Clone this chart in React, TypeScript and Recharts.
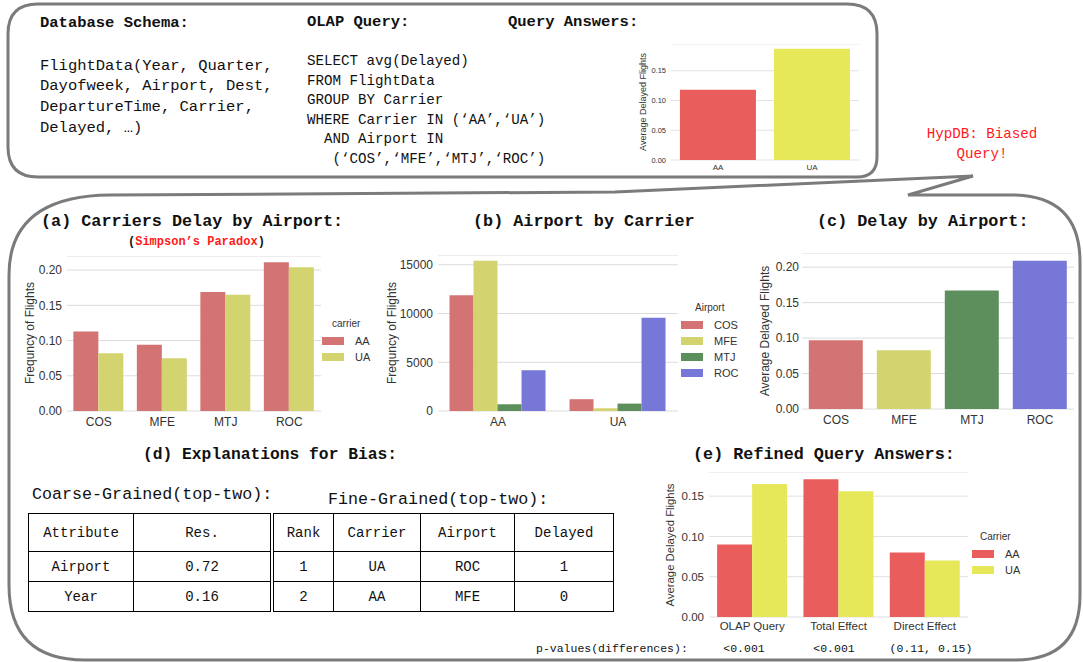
import { BarChart, Bar, XAxis, YAxis, CartesianGrid, Cell } from 'recharts';

const carriers = ['AA', 'UA'];
const airports = ['COS', 'MFE', 'MTJ', 'ROC'];
const overallDelay = [0.118, 0.187];
const delayAA = [0.113, 0.094, 0.169, 0.211];
const delayUA = [0.082, 0.075, 0.165, 0.204];
const flightsAA = [11880, 15410, 690, 4190];
const flightsUA = [1210, 280, 760, 9560];
const airportDelay = [0.097, 0.083, 0.167, 0.209];
const effects = ['OLAP Query', 'Total Effect', 'Direct Effect'];
const refinedAA = [0.09, 0.171, 0.08];
const refinedUA = [0.165, 0.156, 0.07];
const pValues = ['<0.001', '<0.001', '(0.11, 0.15)'];
const delayTicks = [0, 0.05, 0.1, 0.15, 0.2];
const smallTicks = [0, 0.05, 0.1, 0.15];
const flightTicks = [0, 5000, 10000, 15000];

const coarseHeader = ['Attribute', 'Res.'];
const coarseRows = [['Airport', '0.72'], ['Year', '0.16']];
const fineHeader = ['Rank', 'Carrier', 'Airport', 'Delayed'];
const fineRows = [['1', 'UA', 'ROC', '1'], ['2', 'AA', 'MFE', '0']];

const schemaLines = ['FlightData(Year, Quarter,', 'Dayofweek, Airport, Dest,', 'DepartureTime, Carrier,', 'Delayed, …)'];
const queryLines = [
  'SELECT avg(Delayed)',
  'FROM FlightData',
  'GROUP BY Carrier',
  'WHERE Carrier IN (‘AA’,‘UA’)',
  '  AND Airport IN',
  '   (‘COS’,‘MFE’,‘MTJ’,‘ROC’)',
];

const mono = '"Liberation Mono", "DejaVu Sans Mono", monospace';
const sans = '"Liberation Sans", Arial, sans-serif';
const ink = '#333';

// muted palette for (a)-(c), bright one for the query answers
const muted = { COS: '#d47373', MFE: '#d3d46f', MTJ: '#5d8f5d', ROC: '#7777d8' };
const bright = { AA: '#e95d5d', UA: '#e6e85a' };

const overallData = carriers.map((c, i) => ({ carrier: c, delay: overallDelay[i] }));
const byAirport = airports.map((a, i) => ({ airport: a, AA: delayAA[i], UA: delayUA[i] }));
const byCarrier = carriers.map((c, i) => {
  const src = i === 0 ? flightsAA : flightsUA;
  return { carrier: c, COS: src[0], MFE: src[1], MTJ: src[2], ROC: src[3] };
});
const airportData = airports.map((a, i) => ({ airport: a, delay: airportDelay[i] }));
const refinedData = effects.map((e, i) => ({ effect: e, AA: refinedAA[i], UA: refinedUA[i] }));

function Txt({ x, y, size, bold, color, children, center }: any) {
  return (
    <div
      style={{
        position: 'absolute',
        left: x,
        top: y - size * 0.6,
        fontSize: size,
        lineHeight: `${size * 1.2}px`,
        fontFamily: mono,
        fontWeight: bold ? 'bold' : 'normal',
        color: color || '#111',
        whiteSpace: 'pre',
        transform: center ? 'translateX(-50%)' : undefined,
      }}
    >
      {children}
    </div>
  );
}

function VLabel({ x, y, size, text }: any) {
  return (
    <div
      style={{
        position: 'absolute',
        left: x,
        top: y,
        fontSize: size,
        fontFamily: sans,
        color: ink,
        whiteSpace: 'nowrap',
        transform: 'translate(-50%, -50%) rotate(-90deg)',
      }}
    >
      {text}
    </div>
  );
}

function KeyBox({ x, y, title, items, size, titleX }: any) {
  return (
    <>
      <div style={{ position: 'absolute', left: titleX, top: y - 8, fontSize: size - 1, lineHeight: '16px', fontFamily: sans, color: ink }}>{title}</div>
      {items.map((it: any, i: number) => (
        <div key={it.label}>
          <div style={{ position: 'absolute', left: x, top: y + 13 + i * it.step, width: 22, height: 8, background: it.color }} />
          <div style={{ position: 'absolute', left: x + 33, top: y + 9 + i * it.step, fontSize: size, lineHeight: '16px', fontFamily: sans, color: ink }}>{it.label}</div>
        </div>
      ))}
    </>
  );
}

const tickStyle = (size: number) => ({ fontSize: size, fill: ink, fontFamily: sans });

function Table({ x, y, widths, header, rows }: any) {
  const cell = (w: number, h: number): any => ({
    width: w,
    height: h,
    border: '1.5px solid #000',
    textAlign: 'center',
    padding: 0,
    fontFamily: mono,
    fontSize: 14,
    color: '#111',
  });
  return (
    <table style={{ position: 'absolute', left: x, top: y, borderCollapse: 'collapse', tableLayout: 'fixed' }}>
      <tbody>
        <tr>{header.map((h: string, i: number) => <td key={h} style={cell(widths[i], 37)}>{h}</td>)}</tr>
        {rows.map((r: string[], j: number) => (
          <tr key={j}>{r.map((v, i) => <td key={i} style={cell(widths[i], 29)}>{v}</td>)}</tr>
        ))}
      </tbody>
    </table>
  );
}

export default function App() {
  return (
    <div style={{ position: 'absolute', left: 0, top: 0, width: 1083, height: 662, background: '#fff', overflow: 'hidden' }}>
      <svg width={1083} height={662} style={{ position: 'absolute', left: 0, top: 0 }}>
        <path d="M 38 4 L 847 4 Q 877 4 877 34 L 877 157 Q 877 177 857 177 L 38 177 Q 8 177 8 147 L 8 34 Q 8 4 38 4 Z" fill="none" stroke="#7b7b7b" strokeWidth={3} />
        <path d="M 110 195 L 615 192 L 973 176 L 908 195 L 1015 195 Q 1080 197 1080 262 L 1080 595 Q 1080 660 1015 660 L 85 660 Q 9 660 9 585 L 9 275 Q 9 196 110 195 Z" fill="none" stroke="#7b7b7b" strokeWidth={3} />
      </svg>

      {/* top panel */}
      <Txt x={40} y={23} size={15.5} bold>Database Schema:</Txt>
      {schemaLines.map((l, i) => <Txt key={l} x={40} y={66 + i * 20.7} size={15.5}>{l}</Txt>)}
      <Txt x={307} y={22} size={15.5} bold>OLAP Query:</Txt>
      {queryLines.map((l, i) => <Txt key={l} x={307} y={62 + i * 19.5} size={14.2}>{l}</Txt>)}
      <Txt x={508} y={22} size={15.5} bold>Query Answers:</Txt>

      <VLabel x={643} y={102} size={9} text="Average Delayed Flights" />
      <div style={{ position: 'absolute', left: 649, top: 44 }}>
        <BarChart width={210} height={130} data={overallData} margin={{ top: 0, right: 0, bottom: 0, left: 0 }} barCategoryGap="9.5%">
          <CartesianGrid vertical={false} stroke="#e3e3e3" />
          <XAxis dataKey="carrier" axisLine={false} tickLine={false} tickSize={0} tickMargin={4} height={14} interval={0} tick={tickStyle(8)} />
          <YAxis domain={[0, 0.195]} ticks={smallTicks} tickFormatter={(v: number) => v.toFixed(2)} width={22} axisLine={false} tickLine={false} tickSize={0} tickMargin={5} tick={tickStyle(7.5)} />
          <Bar dataKey="delay" isAnimationActive={false}>
            {overallData.map((d) => <Cell key={d.carrier} fill={bright[d.carrier as 'AA' | 'UA']} />)}
          </Bar>
        </BarChart>
      </div>

      <Txt x={982} y={135} size={14.2} color="#ff1a1a" center>HypDB: Biased</Txt>
      <Txt x={982} y={155} size={14.2} color="#ff1a1a" center>Query!</Txt>

      {/* (a) */}
      <Txt x={41} y={222} size={16.8} bold>(a) Carriers Delay by Airport:</Txt>
      <Txt x={128} y={242} size={12} bold>(<span style={{ color: '#ff1a1a' }}>Simpson’s Paradox</span>)</Txt>
      <VLabel x={30} y={333} size={12} text="Frequncy of Flights" />
      <div style={{ position: 'absolute', left: 27, top: 256 }}>
        <BarChart width={294} height={177} data={byAirport} margin={{ top: 0, right: 0, bottom: 0, left: 0 }} barCategoryGap="10%" barGap={0}>
          <CartesianGrid vertical={false} stroke="#dcdcdc" />
          <XAxis dataKey="airport" axisLine={false} tickLine={false} tickSize={0} tickMargin={6} height={22} interval={0} tick={tickStyle(12)} />
          <YAxis domain={[0, 0.22]} ticks={delayTicks} tickFormatter={(v: number) => v.toFixed(2)} width={40} axisLine={false} tickLine={false} tickSize={0} tickMargin={5} tick={tickStyle(12)} />
          <Bar dataKey="AA" fill={muted.COS} isAnimationActive={false} />
          <Bar dataKey="UA" fill={muted.MFE} isAnimationActive={false} />
        </BarChart>
      </div>
      <KeyBox x={322} y={324} titleX={332} title="carrier" size={11}
        items={carriers.map((c, i) => ({ label: c, color: i === 0 ? muted.COS : muted.MFE, step: 16 }))} />

      {/* (b) */}
      <Txt x={473} y={222} size={16.8} bold>(b) Airport by Carrier</Txt>
      <VLabel x={392} y={333} size={12} text="Frequncy of Flights" />
      <div style={{ position: 'absolute', left: 393, top: 255 }}>
        <BarChart width={285} height={178} data={byCarrier} margin={{ top: 0, right: 0, bottom: 0, left: 0 }} barCategoryGap="9.6%" barGap={0}>
          <CartesianGrid vertical={false} stroke="#dcdcdc" />
          <XAxis dataKey="carrier" axisLine={false} tickLine={false} tickSize={0} tickMargin={6} height={22} interval={0} tick={tickStyle(12)} />
          <YAxis domain={[0, 16000]} ticks={flightTicks} width={45} axisLine={false} tickLine={false} tickSize={0} tickMargin={5} tick={tickStyle(12)} />
          {airports.map((a) => <Bar key={a} dataKey={a} fill={muted[a as keyof typeof muted]} isAnimationActive={false} />)}
        </BarChart>
      </div>
      <KeyBox x={681} y={308} titleX={695} title="Airport" size={11}
        items={airports.map((a) => ({ label: a, color: muted[a as keyof typeof muted], step: 16 }))} />

      {/* (c) */}
      <Txt x={817} y={222} size={16.8} bold>(c) Delay by Airport:</Txt>
      <VLabel x={765} y={331} size={12} text="Average Delayed Flights" />
      <div style={{ position: 'absolute', left: 762, top: 253 }}>
        <BarChart width={312} height={178} data={airportData} margin={{ top: 0, right: 0, bottom: 0, left: 0 }} barCategoryGap="10%">
          <CartesianGrid vertical={false} stroke="#dcdcdc" />
          <XAxis dataKey="airport" axisLine={false} tickLine={false} tickSize={0} tickMargin={6} height={22} interval={0} tick={tickStyle(12)} />
          <YAxis domain={[0, 0.22]} ticks={delayTicks} tickFormatter={(v: number) => v.toFixed(2)} width={40} axisLine={false} tickLine={false} tickSize={0} tickMargin={3} tick={tickStyle(12)} />
          <Bar dataKey="delay" isAnimationActive={false}>
            {airportData.map((d) => <Cell key={d.airport} fill={muted[d.airport as keyof typeof muted]} />)}
          </Bar>
        </BarChart>
      </div>

      {/* (d) */}
      <Txt x={143} y={455} size={16.3} bold>(d) Explanations for Bias:</Txt>
      <Txt x={32} y={495} size={16.7}>Coarse-Grained(top-two):</Txt>
      <Txt x={328} y={500} size={16.7}>Fine-Grained(top-two):</Txt>
      <Table x={28} y={513} widths={[104, 136]} header={coarseHeader} rows={coarseRows} />
      <Table x={273} y={513} widths={[59, 86, 93, 98]} header={fineHeader} rows={fineRows} />

      {/* (e) */}
      <Txt x={693} y={455} size={16.8} bold>(e) Refined Query Answers:</Txt>
      <VLabel x={670} y={545} size={11.3} text="Average Delayed Flights" />
      <div style={{ position: 'absolute', left: 669, top: 472 }}>
        <BarChart width={299} height={165} data={refinedData} margin={{ top: 0, right: 0, bottom: 0, left: 0 }} barCategoryGap="9.4%" barGap={0}>
          <CartesianGrid vertical={false} stroke="#e0e0e0" />
          <XAxis dataKey="effect" axisLine={false} tickLine={false} tickSize={0} tickMargin={5} height={20} interval={0} tick={tickStyle(11.5)} />
          <YAxis domain={[0, 0.18]} ticks={smallTicks} tickFormatter={(v: number) => v.toFixed(2)} width={40} axisLine={false} tickLine={false} tickSize={0} tickMargin={5} tick={tickStyle(11.5)} />
          <Bar dataKey="AA" fill={bright.AA} isAnimationActive={false} />
          <Bar dataKey="UA" fill={bright.UA} isAnimationActive={false} />
        </BarChart>
      </div>
      <KeyBox x={972} y={537} titleX={980} title="Carrier" size={11}
        items={carriers.map((c) => ({ label: c, color: bright[c as 'AA' | 'UA'], step: 16 }))} />

      <Txt x={536} y={649} size={11.5}>p-values(differences):</Txt>
      {pValues.map((p, i) => <Txt key={i} x={[744, 834, 931][i]} y={649} size={11.5} center>{p}</Txt>)}
    </div>
  );
}
